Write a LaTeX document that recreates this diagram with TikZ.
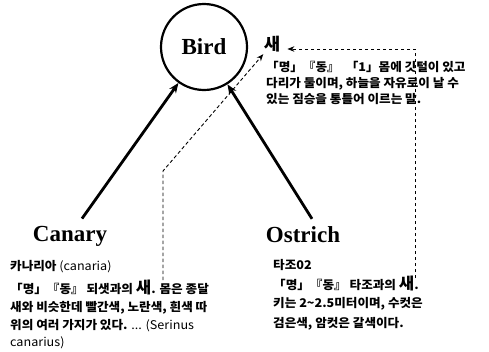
\documentclass[tikz,border=0pt]{standalone}
\usepackage{fontspec}
\usetikzlibrary{arrows.meta,calc}
\newfontfamily\kr{Noto Sans CJK KR}[FakeStretch=1.05]
\newfontfamily\en{Liberation Serif}
\newcommand{\bigsae}{{\fontsize{16}{16}\selectfont\bfseries 새}}
\begin{document}
\begin{tikzpicture}[x=1pt,y={(0pt,-1pt)},
  ktext/.style={anchor=base west,inner sep=0pt,font=\kr\bfseries\fontsize{12}{14}\selectfont},
  title/.style={anchor=base,inner sep=3pt,font=\en\bfseries\fontsize{23}{26}\selectfont},
  solidarrow/.style={line width=2.8pt,-{Stealth[length=10pt,width=8pt]}},
  dasharrow/.style={line width=0.9pt,dash pattern=on 3.5pt off 2.5pt,-{Stealth[length=7pt,width=5.5pt]}}]
\useasboundingbox (0,0) rectangle (489,351);
% Bird
\node[draw,circle,line width=2.2pt,minimum size=86pt,inner sep=0pt,font=\en\bfseries\fontsize{23}{26}\selectfont] (bird) at (204,47) {Bird};
\node[title] (canary) at (70,241) {Canary};
\node[title] (ostrich) at (303,242) {Ostrich};
% top definition
\node[inner sep=2pt,font=\kr\bfseries\fontsize{17}{17}\selectfont] (sae) at (272,44) {새};
\node[ktext] (t1) at (266,71) {「명」『동』\hspace{6pt}「1」몸에 깃털이 있고};
\node[ktext] (t2) at (266,87) {다리가 둘이며, 하늘을 자유로이 날 수};
\node[ktext] (t3) at (266,103) {있는 짐승을 통틀어 이르는 말.};
% canary definition
\node[ktext,font=\kr\fontsize{12}{14}\selectfont] (c1) at (10,270) {{\bfseries 카나리아} (canaria)};
\node[ktext] (c2) at (10,293) {「명」『동』 되샛과의 \bigsae. 몸은 종달};
\node[ktext] (c3) at (10,311) {새와 비슷한데 빨간색, 노란색, 흰색 따};
\node[ktext] (c4) at (10,329) {위의 여러 가지가 있다. {\mdseries ... (Serinus}};
\node[ktext,font=\kr\fontsize{12}{14}\selectfont] (c5) at (10,346) {canarius)};
% ostrich definition
\node[ktext] (o1) at (273,269) {타조02};
\node[ktext] (o2) at (273,289) {「명」『동』 타조과의 \bigsae.};
\node[ktext] (o3) at (273,307) {키는 2{\char"7E}2.5미터이며, 수컷은};
\node[ktext] (o4) at (273,327) {검은색, 암컷은 갈색이다.};
% helper coordinates
\coordinate (csae) at (163,280);
\coordinate (cbend) at (163,171);
\coordinate (osae) at (415,278);
\coordinate (obend) at (415,49);
% solid arrows
\draw[solidarrow] ($(canary.north)+(12,-4)$) -- (bird);
\draw[solidarrow] ($(ostrich.north)+(9,-4)$) -- (bird);
% dashed arrows
\draw[dasharrow] (csae) -- (cbend) -- (sae);
\draw[dasharrow,shorten >=5pt] (osae) -- (obend) -- (obend -| sae.east);
\end{tikzpicture}
\end{document}
